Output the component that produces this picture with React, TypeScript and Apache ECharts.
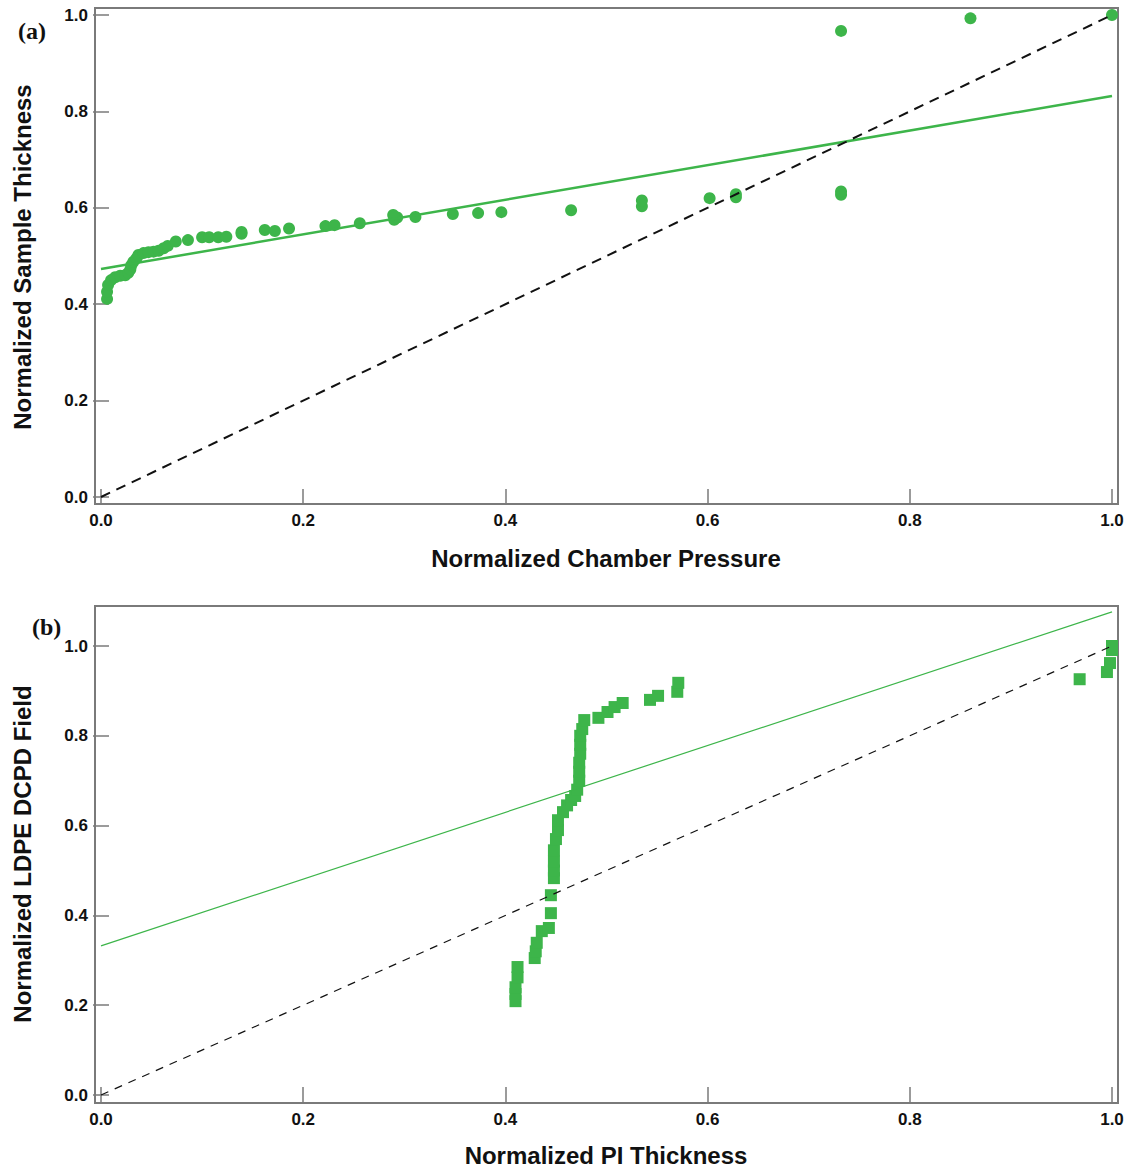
import React, { useEffect, useRef } from "react";
import * as echarts from "echarts";

// Panel (a): normalized chamber pressure vs normalized sample thickness
const aX = [
  0.006, 0.006, 0.007, 0.010, 0.014, 0.019, 0.024, 0.027, 0.029, 0.030, 0.032, 0.035, 0.037,
  0.042, 0.047, 0.052, 0.057, 0.062, 0.066, 0.074, 0.086, 0.100, 0.107, 0.116, 0.124, 0.139,
  0.139, 0.162, 0.172, 0.186, 0.222, 0.231, 0.256, 0.290, 0.293, 0.289, 0.311, 0.348, 0.373,
  0.396, 0.465, 0.535, 0.535, 0.602, 0.628, 0.628, 0.732, 0.732, 0.732, 0.860, 1.0,
];
const aY = [
  0.411, 0.426, 0.440, 0.450, 0.456, 0.459, 0.460, 0.465, 0.472, 0.481, 0.488, 0.495, 0.502,
  0.506, 0.508, 0.509, 0.511, 0.516, 0.521, 0.530, 0.533, 0.539, 0.539, 0.539, 0.540, 0.546,
  0.550, 0.554, 0.552, 0.557, 0.562, 0.564, 0.568, 0.575, 0.580, 0.585, 0.581, 0.587, 0.589,
  0.591, 0.595, 0.603, 0.615, 0.620, 0.622, 0.628, 0.627, 0.634, 0.967, 0.993, 1.0,
];
const aFitX = [0, 1];
const aFitY = [0.473, 0.832];

// Panel (b): normalized PI thickness vs normalized LDPE DCPD field
const bX = [
  0.410, 0.410, 0.410, 0.412, 0.412, 0.429, 0.430, 0.431, 0.436, 0.443, 0.445, 0.445, 0.448,
  0.448, 0.448, 0.448, 0.450, 0.452, 0.452, 0.457, 0.461, 0.465, 0.469, 0.471, 0.473, 0.473,
  0.473, 0.474, 0.474, 0.474, 0.476, 0.478, 0.492, 0.501, 0.508, 0.516, 0.543, 0.551, 0.570,
  0.571, 0.968, 0.995, 0.998, 1.0, 1.0,
];
const bY = [
  0.209, 0.225, 0.240, 0.262, 0.285, 0.305, 0.320, 0.339, 0.365, 0.372, 0.405, 0.445, 0.483,
  0.500, 0.520, 0.545, 0.570, 0.590, 0.612, 0.630, 0.645, 0.657, 0.666, 0.680, 0.700, 0.720,
  0.740, 0.760, 0.780, 0.800, 0.815, 0.835, 0.840, 0.853, 0.864, 0.873, 0.880, 0.889, 0.898,
  0.918, 0.926, 0.942, 0.962, 0.991, 1.0,
];
const bFitX = [0, 1];
const bFitY = [0.332, 1.076];

const refX = [0, 1];
const refY = [0, 1];

const ticks = [0, 0.2, 0.4, 0.6, 0.8, 1.0];

const GREEN = "#3db54a";
const FRAME = "#7a7a7a";
const SANS = "Liberation Sans, Arial, sans-serif";
const SERIF = "Liberation Serif, Times New Roman, serif";

const zip = (xs: number[], ys: number[]) => xs.map((x, i) => [x, ys[i]]);

function labelCfg(show: boolean, margin: number) {
  return {
    show,
    margin,
    fontFamily: SANS,
    fontWeight: "bold",
    fontSize: 17,
    color: "#111",
    formatter: (v: number) => v.toFixed(1),
  };
}

function xAxisCfg(gridIndex: number, position: string, offset: number, showLabel: boolean) {
  return {
    gridIndex,
    type: "value",
    position,
    offset,
    min: ticks[0],
    max: ticks[ticks.length - 1],
    interval: 0.2,
    axisLine: { show: false },
    axisTick: { show: true, inside: true, length: 8, lineStyle: { color: FRAME, width: 1.5 } },
    axisLabel: labelCfg(showLabel, 8),
    splitLine: { show: false },
  };
}

function yAxisCfg(gridIndex: number, position: string, offset: number, showLabel: boolean) {
  return {
    gridIndex,
    type: "value",
    position,
    offset,
    min: ticks[0],
    max: ticks[ticks.length - 1],
    interval: 0.2,
    axisLine: { show: false },
    axisTick: { show: true, inside: true, length: 8, lineStyle: { color: FRAME, width: 1.5 } },
    axisLabel: labelCfg(showLabel, 7),
    splitLine: { show: false },
  };
}

export default function App() {
  const ref = useRef<HTMLDivElement>(null);

  useEffect(() => {
    if (!ref.current) return;
    const chart = echarts.init(ref.current, null, { renderer: "svg" });

    const option: any = {
      animation: false,
      backgroundColor: "#ffffff",
      grid: [
        { left: 101, top: 15, width: 1011, height: 482 },
        { left: 101, top: 646, width: 1011, height: 449 },
      ],
      xAxis: [
        xAxisCfg(0, "bottom", 7, true),
        xAxisCfg(0, "top", 7, false),
        xAxisCfg(1, "bottom", 8, true),
        xAxisCfg(1, "top", 40, false),
      ],
      yAxis: [
        yAxisCfg(0, "left", 6, true),
        yAxisCfg(0, "right", 6, false),
        yAxisCfg(1, "left", 6, true),
        yAxisCfg(1, "right", 6, false),
      ],
      series: [
        {
          type: "scatter",
          xAxisIndex: 0,
          yAxisIndex: 0,
          data: zip(aX, aY),
          symbol: "circle",
          symbolSize: 12,
          itemStyle: { color: GREEN, opacity: 1 },
          clip: false,
        },
        {
          type: "line",
          xAxisIndex: 0,
          yAxisIndex: 0,
          data: zip(aFitX, aFitY),
          showSymbol: false,
          symbol: "none",
          lineStyle: { color: GREEN, width: 2.5 },
          clip: false,
        },
        {
          type: "line",
          xAxisIndex: 0,
          yAxisIndex: 0,
          data: zip(refX, refY),
          symbol: "none",
          lineStyle: { color: "#111", width: 2, type: [10, 7] },
          clip: false,
        },
        {
          type: "scatter",
          xAxisIndex: 2,
          yAxisIndex: 2,
          data: zip(bX, bY),
          symbol: "rect",
          symbolSize: 12,
          itemStyle: { color: GREEN, opacity: 1 },
          clip: false,
        },
        {
          type: "line",
          xAxisIndex: 2,
          yAxisIndex: 2,
          data: zip(bFitX, bFitY),
          symbol: "none",
          lineStyle: { color: GREEN, width: 1.2 },
          clip: false,
        },
        {
          type: "line",
          xAxisIndex: 2,
          yAxisIndex: 2,
          data: zip(refX, refY),
          symbol: "none",
          lineStyle: { color: "#111", width: 1.2, type: [8, 7] },
          clip: false,
        },
      ],
      graphic: [
        {
          type: "rect",
          shape: { x: 95, y: 8, width: 1023, height: 496 },
          style: { fill: "none", stroke: FRAME, lineWidth: 2 },
          silent: true,
        },
        {
          type: "rect",
          shape: { x: 95, y: 606, width: 1023, height: 497 },
          style: { fill: "none", stroke: FRAME, lineWidth: 2 },
          silent: true,
        },
        {
          type: "text",
          x: 606,
          y: 558,
          style: {
            text: "Normalized Chamber Pressure",
            font: `bold 24px ${SANS}`,
            fill: "#111",
            align: "center",
            verticalAlign: "middle",
          },
        },
        {
          type: "text",
          x: 22,
          y: 257,
          rotation: Math.PI / 2,
          style: {
            text: "Normalized Sample Thickness",
            font: `bold 24px ${SANS}`,
            fill: "#111",
            align: "center",
            verticalAlign: "middle",
          },
        },
        {
          type: "text",
          x: 606,
          y: 1155,
          style: {
            text: "Normalized PI Thickness",
            font: `bold 24px ${SANS}`,
            fill: "#111",
            align: "center",
            verticalAlign: "middle",
          },
        },
        {
          type: "text",
          x: 22,
          y: 854,
          rotation: Math.PI / 2,
          style: {
            text: "Normalized LDPE DCPD Field",
            font: `bold 24px ${SANS}`,
            fill: "#111",
            align: "center",
            verticalAlign: "middle",
          },
        },
        {
          type: "text",
          x: 18,
          y: 31,
          style: {
            text: "(a)",
            font: `bold 24px ${SERIF}`,
            fill: "#111",
            align: "left",
            verticalAlign: "middle",
          },
        },
        {
          type: "text",
          x: 32,
          y: 627,
          style: {
            text: "(b)",
            font: `bold 24px ${SERIF}`,
            fill: "#111",
            align: "left",
            verticalAlign: "middle",
          },
        },
      ],
    };

    chart.setOption(option);
    return () => chart.dispose();
  }, []);

  return (
    <div
      ref={ref}
      style={{ position: "absolute", left: 0, top: 0, width: 1128, height: 1168 }}
    />
  );
}
